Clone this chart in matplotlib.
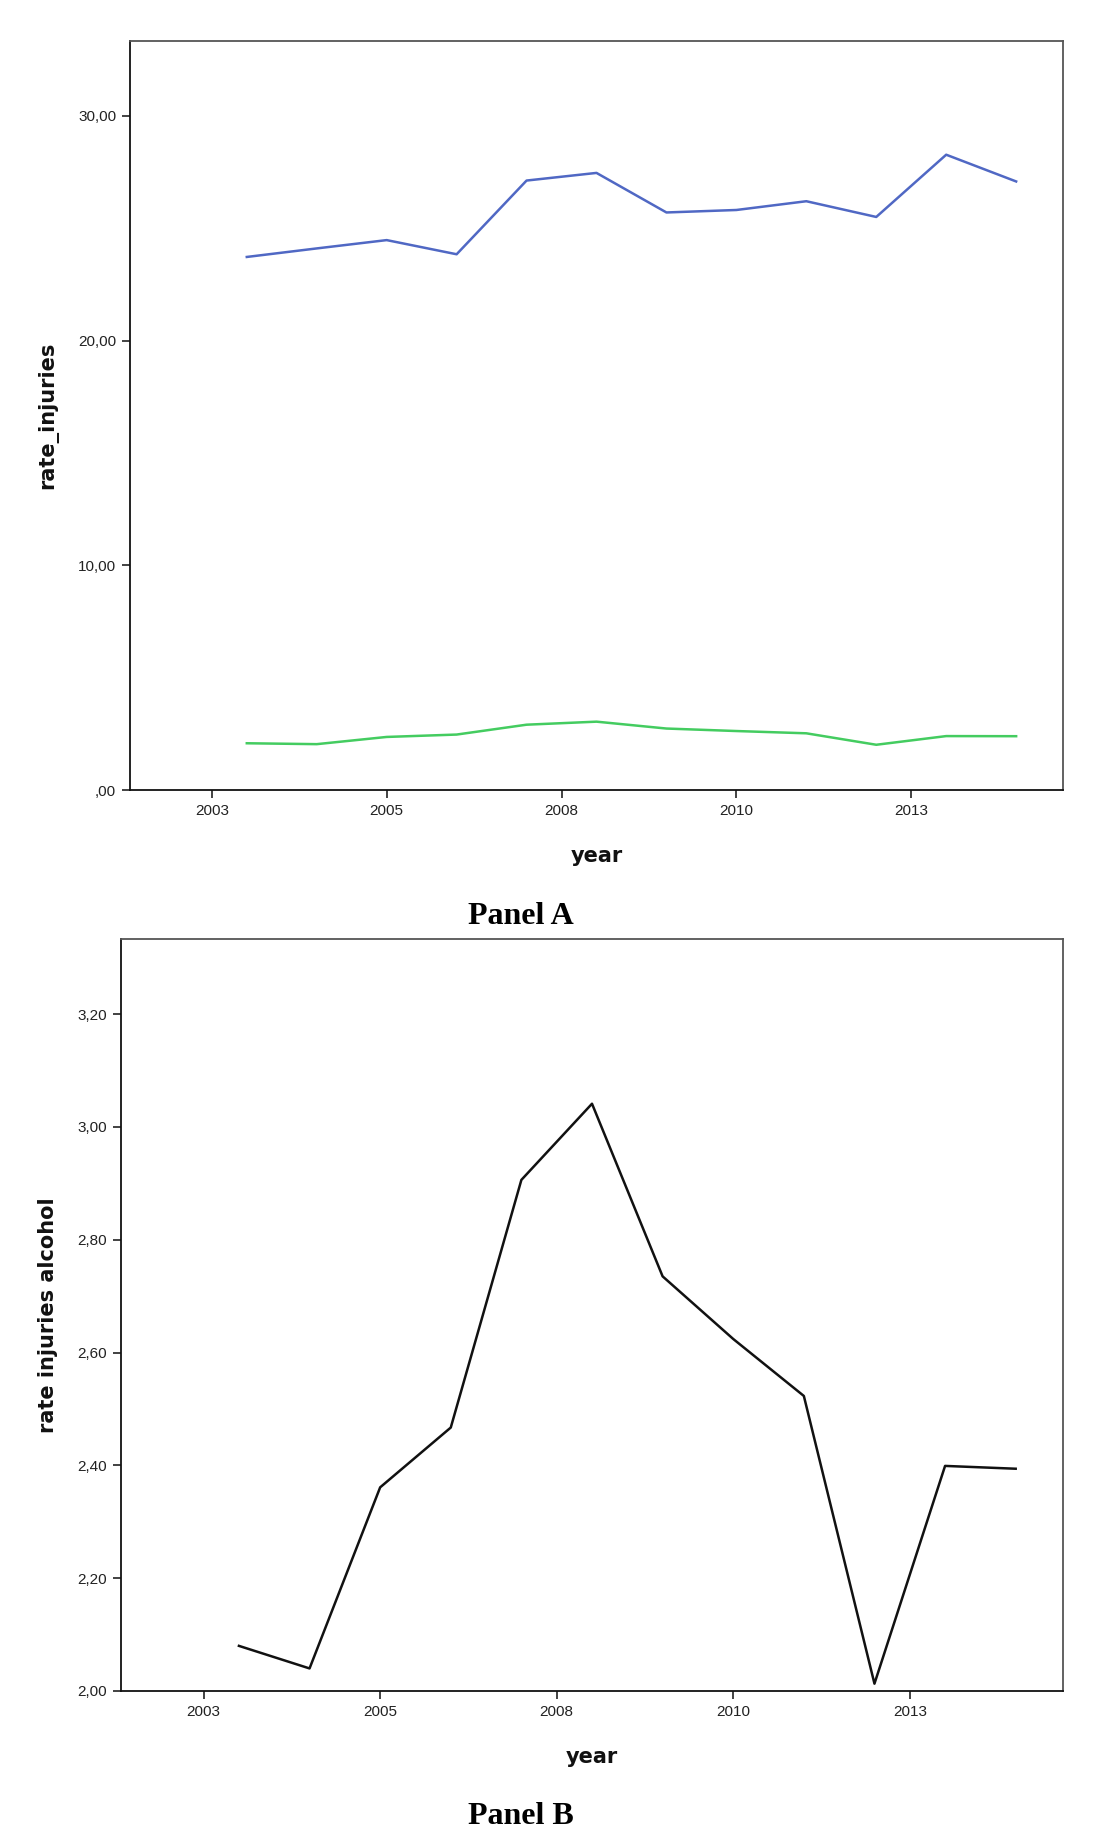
import matplotlib
matplotlib.use("Agg")
import matplotlib.pyplot as plt

years = [2003, 2004, 2005, 2006, 2007, 2008, 2009, 2010, 2011, 2012, 2013, 2014]
rate_injuries = [23.72, 24.10, 24.47, 23.84, 27.12, 27.46, 25.70, 25.81, 26.20, 25.50, 28.27, 27.08]
rate_alcohol = [2.080, 2.040, 2.361, 2.467, 2.906, 3.041, 2.735, 2.624, 2.523, 2.013, 2.399, 2.394]

xtick_pos = [2002.5, 2005, 2007.5, 2010, 2012.5]
xtick_labels = ["2003", "2005", "2008", "2010", "2013"]
ytick_a = [0, 10, 20, 30]
ytick_a_labels = [",00", "10,00", "20,00", "30,00"]
ytick_b = [2.0, 2.2, 2.4, 2.6, 2.8, 3.0, 3.2]
ytick_b_labels = ["2,00", "2,20", "2,40", "2,60", "2,80", "3,00", "3,20"]

W, H = 1102, 1837
fig = plt.figure(figsize=(W / 100, H / 100), dpi=100)

tick_font = dict(family="Liberation Sans", size=11, color="#222222")
label_font = dict(family="DejaVu Sans", size=15, weight="bold", color="#111111")


def style_axes(ax, yticks, ylabels, ylabel):
    ax.set_xlim(2001.33, 2014.67)
    ax.set_xticks(xtick_pos)
    ax.set_xticklabels(xtick_labels, **tick_font)
    ax.set_yticks(yticks)
    ax.set_yticklabels(ylabels, **tick_font)
    ax.tick_params(direction="out", length=6, width=1.2, color="#222222", pad=4)
    for side in ["left", "bottom"]:
        ax.spines[side].set_color("#111111")
        ax.spines[side].set_linewidth(1.3)
    for side in ["top", "right"]:
        ax.spines[side].set_color("#555555")
        ax.spines[side].set_linewidth(1.3)
    ax.set_xlabel("year", labelpad=20, **label_font)
    ax.set_ylabel(ylabel, labelpad=14, **label_font)


# Panel A
axA = fig.add_axes([130 / W, 1 - 790 / H, (1063 - 130) / W, (790 - 41) / H])
axA.plot(years, rate_injuries, color="#5068c4", lw=1.8)
axA.plot(years, rate_alcohol, color="#44cc60", lw=1.8)
axA.set_ylim(0, 33.33)
style_axes(axA, ytick_a, ytick_a_labels, "rate_injuries")

# Panel B
axB = fig.add_axes([121 / W, 1 - 1691 / H, (1063 - 121) / W, (1691 - 939) / H])
axB.plot(years, rate_alcohol, color="#111111", lw=1.8)
axB.set_ylim(2.0, 3.333)
style_axes(axB, ytick_b, ytick_b_labels, "rate injuries alcohol")

fig.text(521 / W, 1 - 917 / H, "Panel A", ha="center", va="center",
         family="Liberation Serif", weight="bold", size=23)
fig.text(521 / W, 1 - 1816 / H, "Panel B", ha="center", va="center",
         family="Liberation Serif", weight="bold", size=23)

fig.savefig("out.png", dpi=100, facecolor="white")
